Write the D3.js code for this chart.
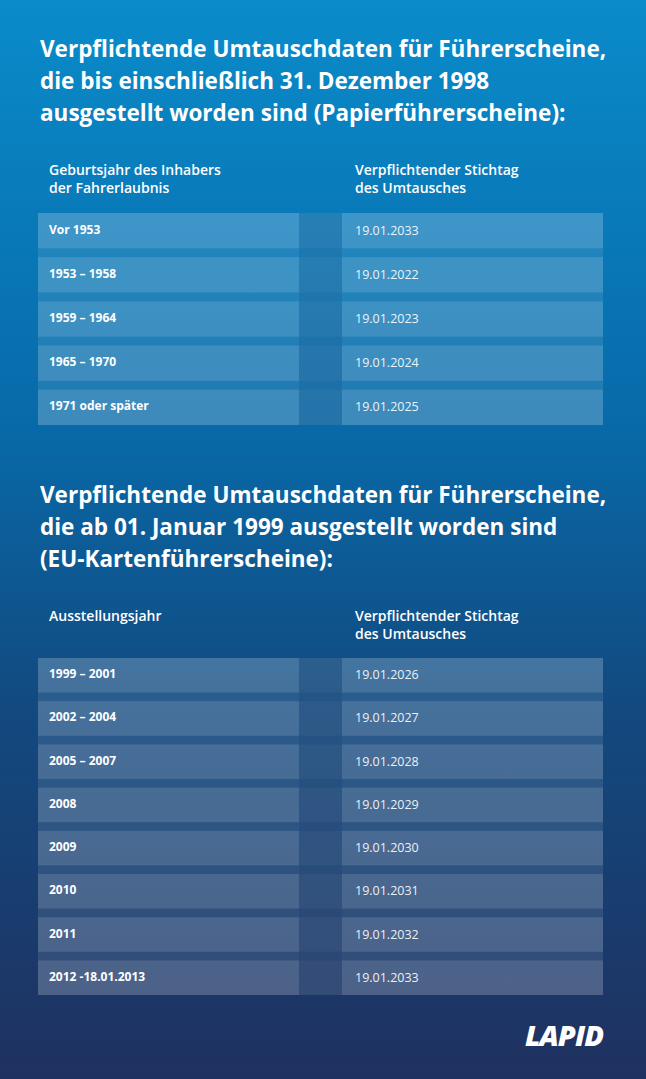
<!DOCTYPE html><html><head><meta charset="utf-8"><script src="https://cdn.jsdelivr.net/npm/d3@7"></script>
<style>body{margin:0}svg{display:block}</style></head><body><svg id="c" width="646" height="1079"></svg>
<script>
const title1 = ["Verpflichtende Umtauschdaten für Führerscheine,","die bis einschließlich 31. Dezember 1998","ausgestellt worden sind (Papierführerscheine):"];
const head1 = [["Geburtsjahr des Inhabers","der Fahrerlaubnis"],["Verpflichtender Stichtag","des Umtausches"]];
const cats1 = ["Vor 1953","1953 – 1958","1959 – 1964","1965 – 1970","1971 oder später"];
const dates1 = ["19.01.2033","19.01.2022","19.01.2023","19.01.2024","19.01.2025"];
const title2 = ["Verpflichtende Umtauschdaten für Führerscheine,","die ab 01. Januar 1999 ausgestellt worden sind","(EU-Kartenführerscheine):"];
const head2 = [["Ausstellungsjahr"],["Verpflichtender Stichtag","des Umtausches"]];
const cats2 = ["1999 – 2001","2002 – 2004","2005 – 2007","2008","2009","2010","2011","2012 -18.01.2013"];
const dates2 = ["19.01.2026","19.01.2027","19.01.2028","19.01.2029","19.01.2030","19.01.2031","19.01.2032","19.01.2033"];

const svg = d3.select("#c");
const defs = svg.append("defs");
const g = defs.append("linearGradient").attr("id","bg").attr("x1",0).attr("y1",0).attr("x2",0).attr("y2",1);
g.append("stop").attr("offset","0").attr("stop-color","#0a8bca");
g.append("stop").attr("offset","0.4").attr("stop-color","#0869a8");
g.append("stop").attr("offset","0.65").attr("stop-color","#124a80");
g.append("stop").attr("offset","1").attr("stop-color","#1f3160");
svg.append("rect").attr("width",646).attr("height",1079).attr("fill","url(#bg)");
const F = "'Open Sans', sans-serif";

function title(lines, y0){
  svg.append("g").selectAll("text").data(lines).join("text")
    .attr("x",40).attr("y",(d,i)=>y0+i*32).attr("fill","#fff").attr("font-family",F)
    .attr("font-weight",700).attr("font-size",22.5).text(d=>d);
}
function table(head, cats, dates, hy, top, bottom){
  const x = d3.scaleOrdinal().domain([0,1]).range([49,355]);
  head.forEach((h,j)=>h.forEach((t,i)=>svg.append("text").attr("x",x(j)).attr("y",hy+i*18)
    .attr("fill","#fff").attr("font-family",F).attr("font-weight",600).attr("font-size",14).text(t)));
  const y = d3.scaleBand().domain(cats).range([top,bottom]).paddingInner(0.2);
  svg.append("rect").attr("x",38).attr("y",top).attr("width",565).attr("height",bottom-top).attr("fill","#fff").attr("opacity",0.1);
  svg.append("rect").attr("x",299).attr("y",top).attr("width",43).attr("height",bottom-top).attr("fill","#001e50").attr("opacity",0.12);
  const r = svg.append("g").selectAll("g").data(cats).join("g");
  r.append("rect").attr("x",38).attr("y",d=>y(d)).attr("width",261).attr("height",y.bandwidth()).attr("fill","#fff").attr("opacity",0.13);
  r.append("rect").attr("x",342).attr("y",d=>y(d)).attr("width",261).attr("height",y.bandwidth()).attr("fill","#fff").attr("opacity",0.13);
  r.append("rect").attr("x",299).attr("y",d=>y(d)).attr("width",43).attr("height",y.bandwidth()).attr("fill","#fff").attr("opacity",0.04);
  r.append("text").attr("x",49).attr("y",d=>y(d)+y.bandwidth()/2+3).attr("fill","#fff").attr("font-family",F)
    .attr("font-weight",700).attr("font-size",12).text(d=>d);
  r.append("text").attr("x",355).attr("y",(d,i)=>y(d)+y.bandwidth()/2+4).attr("fill","#fff").attr("opacity",0.9).attr("font-family",F)
    .attr("font-weight",400).attr("font-size",12.5).text((d,i)=>dates[i]);
}
title(title1,57);
table(head1,cats1,dates1,175,213,425);
title(title2,503);
table(head2,cats2,dates2,621,658,995);
svg.append("text").attr("x",603).attr("y",1046).attr("text-anchor","end").attr("fill","#fff")
  .attr("font-family",F).attr("font-weight",800).attr("font-style","italic").attr("font-size",29).attr("letter-spacing",-1).text("LAPID");
</script></body></html>
